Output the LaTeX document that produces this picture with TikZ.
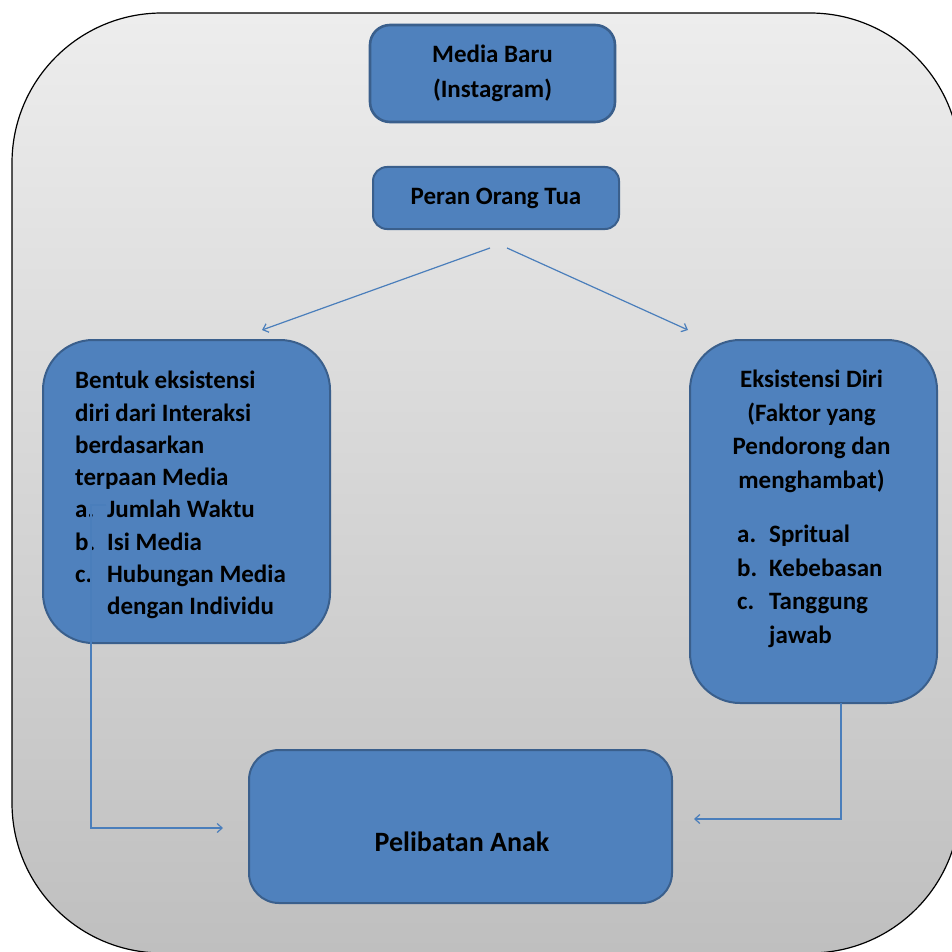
\documentclass[tikz,border=0pt]{standalone}
\usepackage{fontspec}
\setmainfont{Carlito}
\usetikzlibrary{arrows.meta}
\definecolor{boxblue}{HTML}{4F81BD}
\definecolor{boxedge}{HTML}{3A5F8C}
\definecolor{arrowblue}{HTML}{4A7EBB}
\definecolor{bgtop}{HTML}{EDEDED}
\definecolor{bgbot}{HTML}{BFBFBF}
\begin{document}
\begin{tikzpicture}[x=1pt,y=-1pt,
  bluebox/.style={draw=boxedge, fill=boxblue, line width=2pt, rounded corners=#1, inner sep=0pt},
  lbl/.style={font=\fontsize{25}{33.5}\selectfont\bfseries, inner sep=0pt},
  conn/.style={draw=arrowblue, line width=1.2pt, -{Straight Barb[length=5pt,width=9pt]}}]
\useasboundingbox (0,0) rectangle (952,952);
% outer frame
\path[draw=black, line width=1.2pt, top color=bgtop, bottom color=bgbot, rounded corners=150pt]
  (12,13) rectangle (960,953);
% boxes
\node[bluebox=20pt, line width=2.6pt, minimum width=245pt, minimum height=97pt, lbl, font=\fontsize{25}{35}\selectfont\bfseries, align=center] (media) at (492.5,73.5) {Media Baru\\(Instagram)};
\node[bluebox=14pt, minimum width=246pt, minimum height=62pt, lbl] (peran) at (496,198) {Peran Orang Tua};
\node[bluebox=50pt, minimum width=287pt, minimum height=303pt] (left) at (186.5,491.5) {};
\node[bluebox=50pt, minimum width=247pt, minimum height=363pt] (right) at (813.5,521.5) {};
\node[bluebox=30pt, minimum width=423pt, minimum height=153pt] (anak) at (460.5,826.5) {};
% texts
\node[lbl, font=\fontsize{25}{32.3}\selectfont\bfseries, anchor=north west, align=left] (ltext) at (75,371)
  {Bentuk eksistensi\\diri dari Interaksi\\berdasarkan\\terpaan Media\\
   \makebox[32pt][l]{a.}Jumlah Waktu\\
   \makebox[32pt][l]{b.}Isi Media\\
   \makebox[32pt][l]{c.}Hubungan Media\\
   \hspace*{32pt}dengan Individu};
\node[lbl, anchor=north, align=center] (rtitle) at (811.5,370)
  {Eksistensi Diri\\(Faktor yang\\Pendorong dan\\menghambat)};
\node[lbl, anchor=north west, align=left] (rlist) at (737,525)
  {\makebox[32pt][l]{a.}Spritual\\
   \makebox[32pt][l]{b.}Kebebasan\\
   \makebox[32pt][l]{c.}Tanggung\\
   \hspace*{32pt}jawab};
\node[lbl, font=\fontsize{28}{33}\selectfont\bfseries] (anaktext) at (462,842) {Pelibatan Anak};
% connectors
\coordinate (p1) at (490,248);
\coordinate (p2) at (507,248);
\coordinate (l1) at (262,330);
\coordinate (r1) at (688,330);
\coordinate (ls) at (106,505);
\coordinate (lc) at (91,828);
\coordinate (le) at (223,828);
\coordinate (rs) at (841,703);
\coordinate (rc) at (841,819);
\coordinate (re) at (694,819);
\draw[conn] (p1) -- (l1);
\draw[conn] (p2) -- (r1);
\draw[conn] (ls) -- (ls -| lc) -- (lc) -- (le);
\draw[conn] (rs) -- (rc) -- (re);
\end{tikzpicture}
\end{document}
